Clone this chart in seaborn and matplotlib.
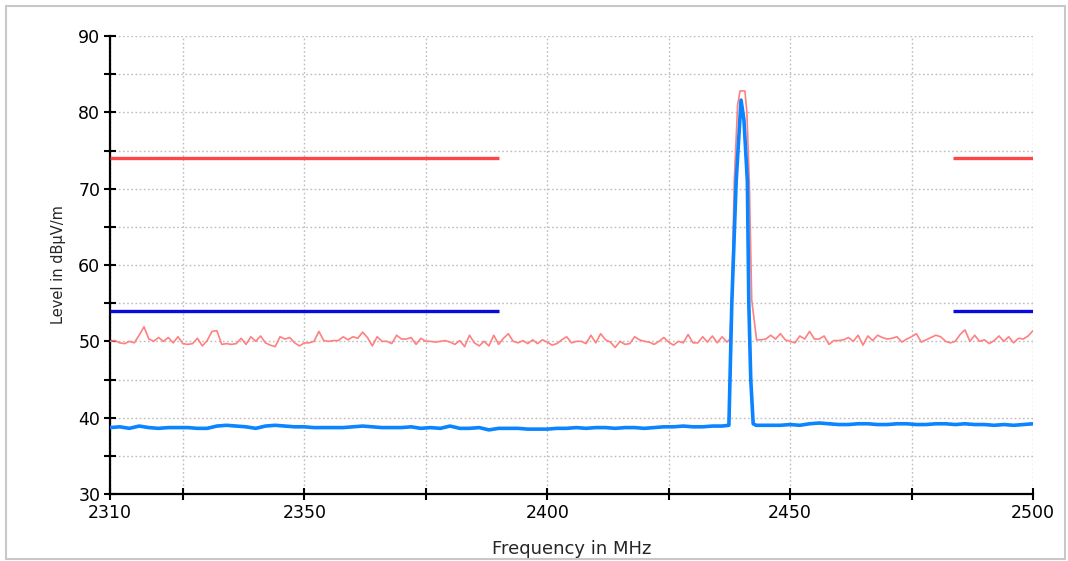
import numpy as np
import pandas as pd
import matplotlib
matplotlib.use("Agg")
import matplotlib.pyplot as plt
import seaborn as sns
from matplotlib.patches import Rectangle
from matplotlib.ticker import FixedLocator

# peak trace (light red), 1 MHz steps outside the carrier
pk_head_freq = np.arange(2310, 2438)
pk_head = [
    50.0, 50.1, 49.8, 49.7, 50.0, 49.8, 50.8, 51.9, 50.3, 50.0,
    50.5, 50.0, 50.5, 49.8, 50.6, 49.7, 49.6, 49.7, 50.4, 49.4,
    50.1, 51.3, 51.4, 49.6, 49.7, 49.6, 49.7, 50.4, 49.6, 50.6,
    50.0, 50.7, 49.8, 49.5, 49.3, 50.6, 50.3, 50.5, 49.8, 49.4,
    49.8, 49.8, 50.0, 51.3, 50.1, 50.0, 50.1, 50.1, 50.6, 50.2,
    50.6, 50.4, 51.2, 50.5, 49.4, 50.6, 50.0, 50.0, 49.7, 50.8,
    50.3, 50.3, 50.5, 49.6, 50.4, 50.0, 50.0, 49.9, 50.0, 50.1,
    49.9, 49.6, 50.1, 49.3, 50.8, 49.8, 49.4, 50.0, 49.4, 50.8,
    49.6, 50.4, 51.0, 50.0, 49.8, 50.1, 49.7, 50.2, 49.7, 50.2,
    49.9, 49.5, 49.7, 50.2, 50.6, 49.8, 50.0, 50.0, 49.7, 50.8,
    49.8, 51.0, 50.2, 49.9, 49.2, 50.0, 49.6, 49.7, 50.6, 50.2,
    50.0, 49.9, 49.6, 50.0, 50.5, 49.9, 49.5, 50.0, 49.8, 50.9,
    49.8, 49.8, 50.6, 49.9, 50.7, 49.8, 50.6, 49.9,
]
pk_mid_freq = [2437.6, 2438.0, 2438.5, 2439.2, 2439.7, 2440.7, 2441.1, 2441.6, 2442.1, 2443.1]
pk_mid = [50.3, 55.4, 71.0, 81.0, 82.8, 82.8, 80.0, 71.0, 55.4, 50.2]
pk_tail_freq = np.arange(2444, 2501)
pk_tail = [
    50.2, 50.3, 50.8, 50.3, 51.0, 50.2, 50.0, 49.8, 50.7, 50.3,
    51.3, 50.3, 50.3, 50.7, 49.6, 50.1, 50.1, 50.2, 50.5, 50.0,
    50.8, 49.5, 50.7, 50.1, 50.8, 50.5, 50.3, 50.4, 50.6, 49.9,
    50.3, 50.6, 51.0, 49.9, 50.2, 50.5, 50.8, 50.6, 50.0, 49.8,
    50.0, 50.9, 51.5, 50.0, 50.8, 50.0, 50.2, 49.7, 50.1, 50.7,
    50.0, 50.6, 49.8, 50.4, 50.3, 50.7, 51.4,
]

# average trace (blue), 2 MHz steps outside the carrier
av_head_freq = np.arange(2310, 2437, 2)
av_head = [
    38.7, 38.8, 38.6, 38.9, 38.7, 38.6, 38.7, 38.7,
    38.7, 38.6, 38.6, 38.9, 39.0, 38.9, 38.8, 38.6,
    38.9, 39.0, 38.9, 38.8, 38.8, 38.7, 38.7, 38.7,
    38.7, 38.8, 38.9, 38.8, 38.7, 38.7, 38.7, 38.8,
    38.6, 38.7, 38.6, 38.9, 38.6, 38.6, 38.7, 38.4,
    38.6, 38.6, 38.6, 38.5, 38.5, 38.5, 38.6, 38.6,
    38.7, 38.6, 38.7, 38.7, 38.6, 38.7, 38.7, 38.6,
    38.7, 38.8, 38.8, 38.9, 38.8, 38.8, 38.9, 38.9,
]
av_mid_freq = [2437.4, 2438.0, 2438.9, 2439.9, 2440.5, 2441.2, 2441.5, 2441.9, 2442.4, 2443.0]
av_mid = [39.0, 55.0, 71.0, 81.6, 79.0, 71.0, 55.0, 45.0, 39.2, 39.0]
av_tail_freq = np.arange(2444, 2501, 2)
av_tail = [
    39.0, 39.0, 39.0, 39.1, 39.0, 39.2, 39.3, 39.2,
    39.1, 39.1, 39.2, 39.2, 39.1, 39.1, 39.2, 39.2,
    39.1, 39.1, 39.2, 39.2, 39.1, 39.2, 39.1, 39.1,
    39.0, 39.1, 39.0, 39.1, 39.2,
]

# restricted band limits
limit_ranges = [(2310, 2390), (2483.5, 2500)]
peak_limit = 74
avg_limit = 54

pk = pd.DataFrame({
    "freq": np.concatenate([pk_head_freq, pk_mid_freq, pk_tail_freq]),
    "level": pk_head + pk_mid + pk_tail,
})
av = pd.DataFrame({
    "freq": np.concatenate([av_head_freq, av_mid_freq, av_tail_freq]),
    "level": av_head + av_mid + av_tail,
})

sns.set_style("white")
plt.rcParams["font.family"] = ["DejaVu Sans"]

fig = plt.figure(figsize=(10.68, 5.61), dpi=100)
ax = fig.add_axes([110 / 1068, 1 - 494 / 561, 923 / 1068, 458 / 561])

for x0, x1 in limit_ranges:
    ax.plot([x0, x1], [peak_limit, peak_limit], color="#ff4646", lw=2.4, solid_capstyle="butt", zorder=3)
    ax.plot([x0, x1], [avg_limit, avg_limit], color="#0a0adc", lw=2.4, solid_capstyle="butt", zorder=3)

sns.lineplot(data=pk, x="freq", y="level", ax=ax, color="#ff8080", lw=1.2, sort=False, zorder=4)
sns.lineplot(data=av, x="freq", y="level", ax=ax, color="#0a84ff", lw=2.6, sort=False, zorder=5)

ax.set_xlim(2310, 2500)
ax.set_ylim(30, 90)

xticks = [2310, 2325, 2350, 2375, 2400, 2425, 2450, 2475, 2500]
ax.xaxis.set_major_locator(FixedLocator(xticks))
ax.set_xticklabels(["2310", "", "2350", "", "2400", "", "2450", "", "2500"])
yticks = list(range(30, 91, 5))
ax.yaxis.set_major_locator(FixedLocator(yticks))
ax.set_yticklabels([str(v) if v % 10 == 0 else "" for v in yticks])

ax.tick_params(bottom=True, left=True, direction="inout", length=9, width=1.5,
               colors="black", labelsize=12.5)
ax.tick_params(axis="x", pad=3)
ax.tick_params(axis="y", pad=2.5)
ax.grid(True, color="#bdbdbd", linestyle=(0, (1.2, 1.8)), lw=1.0)

for side in ["top", "right"]:
    ax.spines[side].set_visible(False)
for side in ["left", "bottom"]:
    ax.spines[side].set_color("black")
    ax.spines[side].set_linewidth(1.6)

ax.set_xlabel("Frequency in MHz", fontsize=13, labelpad=13)
ax.set_ylabel("Level in dBµV/m", fontsize=10.5, labelpad=8.5)

fig.patches.append(Rectangle((6 / 1068, 2 / 561), 1059 / 1068, 553 / 561, transform=fig.transFigure,
                             fill=False, edgecolor="#c8c8c8", lw=1.5))

fig.savefig("out.png", dpi=100)
